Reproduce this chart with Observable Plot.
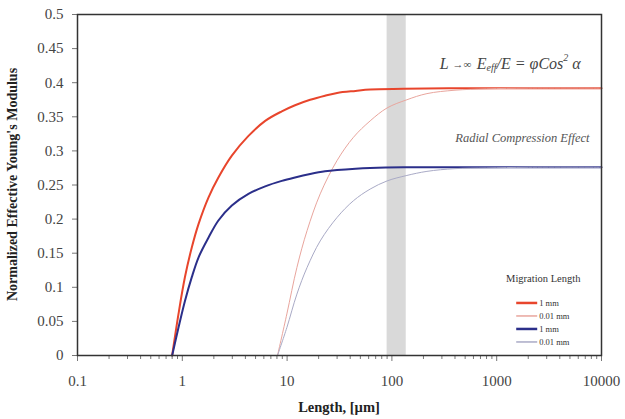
<!DOCTYPE html>
<html>
<head>
<meta charset="utf-8">
<script src="https://cdn.jsdelivr.net/npm/d3@7"></script>
<script src="https://cdn.jsdelivr.net/npm/@observablehq/plot@0.6"></script>
<style>
  body { margin: 0; background: #fff; }
  #chart { width: 625px; height: 419px; }
  #chart svg, #chart svg text { font-family: "Liberation Serif", "Times New Roman", "DejaVu Serif", serif !important; }
</style>
</head>
<body>
<div id="chart"></div>
<script>
// ---- data ----
const xTicks = [0.1, 1, 10, 100, 1000, 10000];
const xTickLabels = ["0.1", "1", "10", "100", "1000", "10000"];
const yTicks = [0, 0.05, 0.1, 0.15, 0.2, 0.25, 0.3, 0.35, 0.4, 0.45, 0.5];
const yTickLabels = ["0", "0.05", "0.1", "0.15", "0.2", "0.25", "0.3", "0.35", "0.4", "0.45", "0.5"];
const minorTicks = [0.2,0.3,0.4,0.5,0.6,0.7,0.8,0.9, 2,3,4,5,6,7,8,9, 20,30,40,50,60,70,80,90, 200,300,400,500,600,700,800,900, 2000,3000,4000,5000,6000,7000,8000,9000];

// thick red: 1 mm (upper)
const red1mmL = [0.8, 0.92, 1.06, 1.23, 1.43, 1.78, 2.21, 2.97, 4.28, 6.18, 8.9, 11.9, 16.6, 23, 30, 45, 62, 130, 400, 1500, 10000];
const red1mmV = [0, 0.061, 0.115, 0.158, 0.193, 0.232, 0.261, 0.293, 0.322, 0.344, 0.358, 0.367, 0.375, 0.381, 0.385, 0.388, 0.390, 0.391, 0.392, 0.392, 0.392];
// thin red: 0.01 mm (upper)
const red001L = [8.1, 9.95, 12.4, 15.5, 20.7, 30, 43, 62, 90, 139, 216, 400, 800, 2000, 10000];
const red001V = [0, 0.061, 0.129, 0.183, 0.237, 0.286, 0.320, 0.344, 0.363, 0.375, 0.384, 0.389, 0.391, 0.392, 0.392];
// thick blue: 1 mm (lower)
const blue1mmL = [0.8, 0.92, 1.06, 1.23, 1.43, 1.78, 2.21, 2.97, 4.28, 6.18, 8.9, 11.9, 16.6, 23, 30, 45, 62, 130, 400, 1500, 10000];
const blue1mmV = [0, 0.041, 0.080, 0.1145, 0.144, 0.173, 0.198, 0.220, 0.237, 0.248, 0.256, 0.261, 0.266, 0.270, 0.272, 0.274, 0.275, 0.276, 0.276, 0.276, 0.276];
// thin blue: 0.01 mm (lower)
const blue001L = [8.1, 9.95, 12.4, 15.5, 20.7, 30, 43, 62, 90, 139, 216, 400, 800, 2000, 10000];
const blue001V = [0, 0.041, 0.090, 0.129, 0.168, 0.2025, 0.227, 0.244, 0.256, 0.264, 0.270, 0.274, 0.275, 0.276, 0.276];

// shaded band
const bandX1 = 90, bandX2 = 137;

const seriesNames = ["1 mm", "0.01 mm", "1 mm", "0.01 mm"];
const seriesColors = ["#e8452c", "#e9a59d", "#2b2f8a", "#a9aac6"];
const seriesWidths = [2, 1, 2, 1];

const toRows = (L, V, k) => L.map((x, i) => ({x, y: V[i], k}));
const series = [
  toRows(red1mmL, red1mmV, 0),
  toRows(red001L, red001V, 1),
  toRows(blue1mmL, blue1mmV, 2),
  toRows(blue001L, blue001V, 3)
];

const serif = "Liberation Serif, Times New Roman, DejaVu Serif, serif";

const plot = Plot.plot({
  width: 625,
  height: 419,
  marginLeft: 77,
  marginRight: 24,
  marginTop: 14,
  marginBottom: 64,
  style: { fontFamily: serif, background: "#fff", overflow: "visible" },
  x: { type: "log", domain: [0.1, 10000] },
  y: { domain: [0, 0.5] },
  marks: [
    Plot.rect([{x1: bandX1, x2: bandX2}], {x1: "x1", x2: "x2", y1: 0, y2: 0.5, fill: "#d9d9d9"}),
    ...series.map((s, i) => Plot.line(s, {x: "x", y: "y", stroke: seriesColors[i], strokeWidth: seriesWidths[i], curve: "catmull-rom"})),
    Plot.axisX({ticks: minorTicks, tickSize: 4, tickFormat: () => "", stroke: "#777", label: null}),
    Plot.axisX({ticks: xTicks, tickSize: 6, tickPadding: 14, tickFormat: (d) => xTickLabels[xTicks.indexOf(d)], fontSize: 15, fill: "#444", stroke: "#777", label: null}),
    Plot.axisY({ticks: yTicks, tickSize: 5, tickPadding: 9, tickFormat: (d) => yTickLabels[yTicks.indexOf(d)], fontSize: 15, fill: "#444", stroke: "#777", label: null}),
    Plot.frame({stroke: "#333", strokeWidth: 1.5}),
    Plot.text(["Radial Compression Effect"], {x: 10000, y: 0.319, text: d => d, textAnchor: "end", dx: -12, fontSize: 12.5, fontStyle: "italic", fill: "#555"}),
    Plot.text(["Migration Length"], {x: 2780, y: 0.1127, text: d => d, fontSize: 10.5, fill: "#333"})
  ]
});

document.getElementById("chart").appendChild(plot);

const svg = d3.select(plot);
const sx = plot.scale("x"), sy = plot.scale("y");

// formula annotation
const f = svg.append("text")
  .attr("x", sx.apply(1362)).attr("y", sy.apply(0.425))
  .attr("text-anchor", "middle").attr("dominant-baseline", "middle")
  .attr("font-size", 16).attr("font-style", "italic").attr("fill", "#444");
f.append("tspan").text("L ");
f.append("tspan").attr("font-style", "normal").attr("font-size", 11).text("→∞  ");
f.append("tspan").text("E");
f.append("tspan").attr("font-size", 10).attr("dy", 4).text("eff");
f.append("tspan").attr("dy", -4).text("/E = ");
f.append("tspan").text("φCos");
f.append("tspan").attr("font-size", 10).attr("dy", -6).text("2");
f.append("tspan").attr("dy", 6).text(" α");

// legend
const legX = sx.apply(1552), legY0 = sy.apply(0.0763), legStep = 13;
seriesNames.forEach((name, i) => {
  const y = legY0 + i * legStep;
  svg.append("line").attr("x1", legX).attr("x2", legX + 21).attr("y1", y).attr("y2", y)
    .attr("stroke", seriesColors[i]).attr("stroke-width", seriesWidths[i] + 0.5);
  svg.append("text").attr("x", legX + 23).attr("y", y + 3).attr("text-anchor", "start")
    .attr("font-size", 8.5).attr("fill", "#333").text(name);
});

// axis titles
svg.append("text")
  .attr("transform", `translate(14, ${(sy.apply(0) + sy.apply(0.5)) / 2}) rotate(-90)`)
  .attr("text-anchor", "middle").attr("dominant-baseline", "middle")
  .attr("font-weight", "bold").attr("font-size", 14).attr("fill", "#222")
  .text("Normalized Effective Young's Modulus");
svg.append("text")
  .attr("x", (sx.apply(0.1) + sx.apply(10000)) / 2).attr("y", 409)
  .attr("text-anchor", "middle").attr("dominant-baseline", "middle")
  .attr("font-weight", "bold").attr("font-size", 14.5).attr("fill", "#222")
  .text("Length, [µm]");
</script>
</body>
</html>
